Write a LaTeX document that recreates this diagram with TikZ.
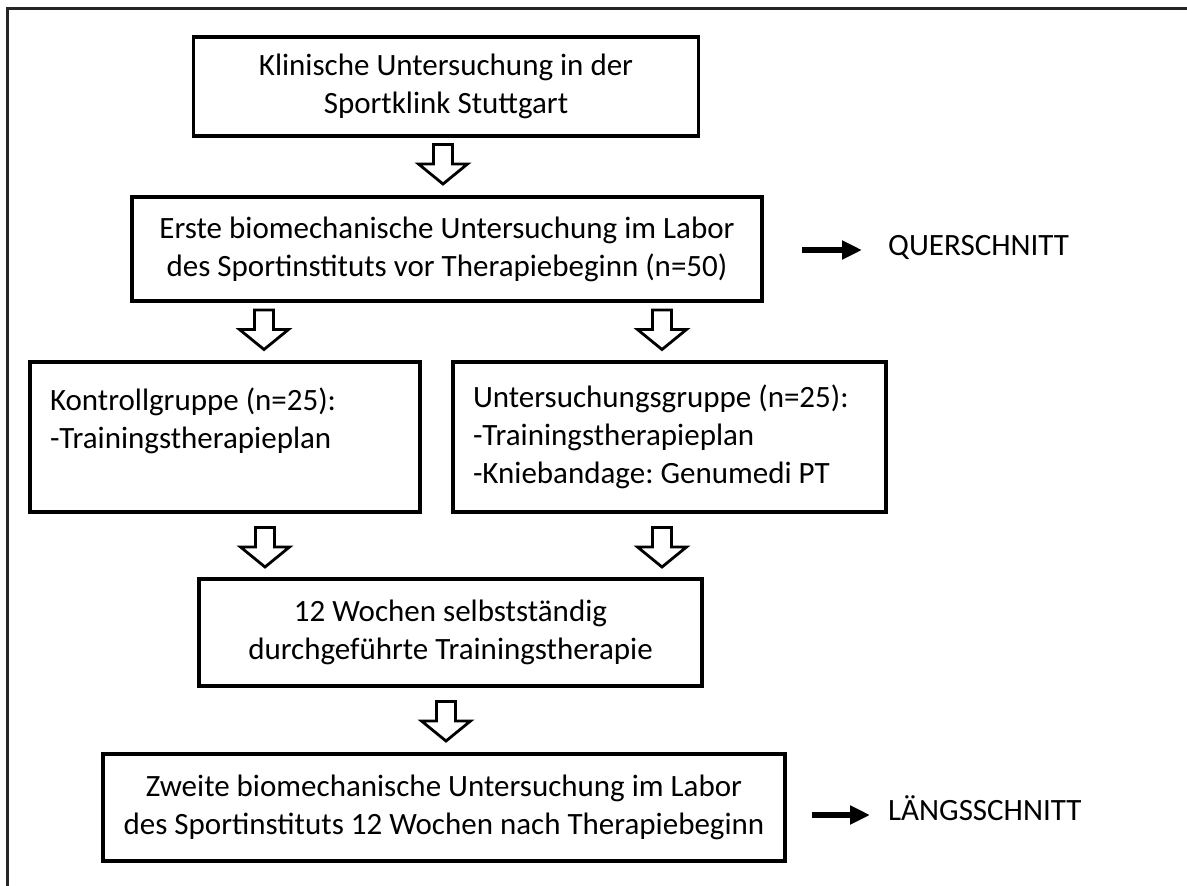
\documentclass[tikz,border=0pt]{standalone}
\usepackage{fontspec}
\setmainfont{Carlito}
\usetikzlibrary{arrows.meta}
\frenchspacing
\newcommand\fsz{\fontsize{31pt}{38pt}\selectfont\frenchspacing}
\begin{document}
\begin{tikzpicture}[x=1pt,y=-1pt,
  box/.style={draw, line width=3.5pt, inner sep=0pt, align=flush center, font=\fsz},
  gbox/.style={draw, line width=3.5pt, inner xsep=20pt, inner ysep=0pt, align=flush left, font=\fsz},
  lbl/.style={inner sep=0pt, font=\fsz},
  blk/.style={line width=5.5pt, -{Triangle[length=20pt,width=18pt]}},
  barrow/.pic={\draw[line width=2.8pt, fill=white, line join=miter]
     (-9.5,0) -- (9.5,0) -- (9.5,19.5) -- (24.5,19.5) -- (0,39.5) -- (-24.5,19.5) -- (-9.5,19.5) -- cycle;}
]
\useasboundingbox (0,0) rectangle (1187,886);
\fill[white] (0,0) rectangle (1187,886);
% outer frame (left and top edges)
\draw[line width=3pt, color=black!85] (7,886) -- (7,8) -- (1187,8);

\node[box, minimum width=505pt, minimum height=99pt] (b1) at (446,86.5)
  {Klinische Untersuchung in der\\Sportklink Stuttgart};
\node[box, minimum width=630pt, minimum height=104pt] (b2) at (447,249)
  {Erste biomechanische Untersuchung im Labor\\des Sportinstituts vor Therapiebeginn (n=50)};
\node[gbox, text width=350pt, minimum width=390pt, minimum height=150pt] (b3) at (225,437)
  {Kontrollgruppe (n=25):\\-Trainingstherapieplan\\\mbox{}};
\node[gbox, text width=393pt, minimum width=433pt, minimum height=150pt] (b4) at (669.5,437)
  {Untersuchungsgruppe (n=25):\\-Trainingstherapieplan\\-Kniebandage: Genumedi PT};
\node[box, minimum width=503pt, minimum height=107pt] (b5) at (450.5,632.5)
  {12 Wochen selbstständig\\durchgeführte Trainingstherapie};
\node[box, minimum width=682pt, minimum height=107pt] (b6) at (444,807.5)
  {Zweite biomechanische Untersuchung im Labor\\des Sportinstituts 12 Wochen nach Therapiebeginn};

% block arrows between boxes
\pic at (443,144.5) {barrow};
\pic at (264,310) {barrow};
\pic at (662,310) {barrow};
\pic at (265,527.5) {barrow};
\pic at (662,527.5) {barrow};
\pic at (446,701.5) {barrow};

% side labels
\node[lbl, anchor=base west] (q) at (888,255) {QUERSCHNITT};
\coordinate (qs) at (802,250);
\draw[blk, shorten >=26pt] (qs) -- (qs -| q.west);

\node[lbl, anchor=base west] (l) at (888,820) {LÄNGSSCHNITT};
\coordinate (ls) at (812,815);
\draw[blk, shorten >=18pt] (ls) -- (ls -| l.west);
\end{tikzpicture}
\end{document}
